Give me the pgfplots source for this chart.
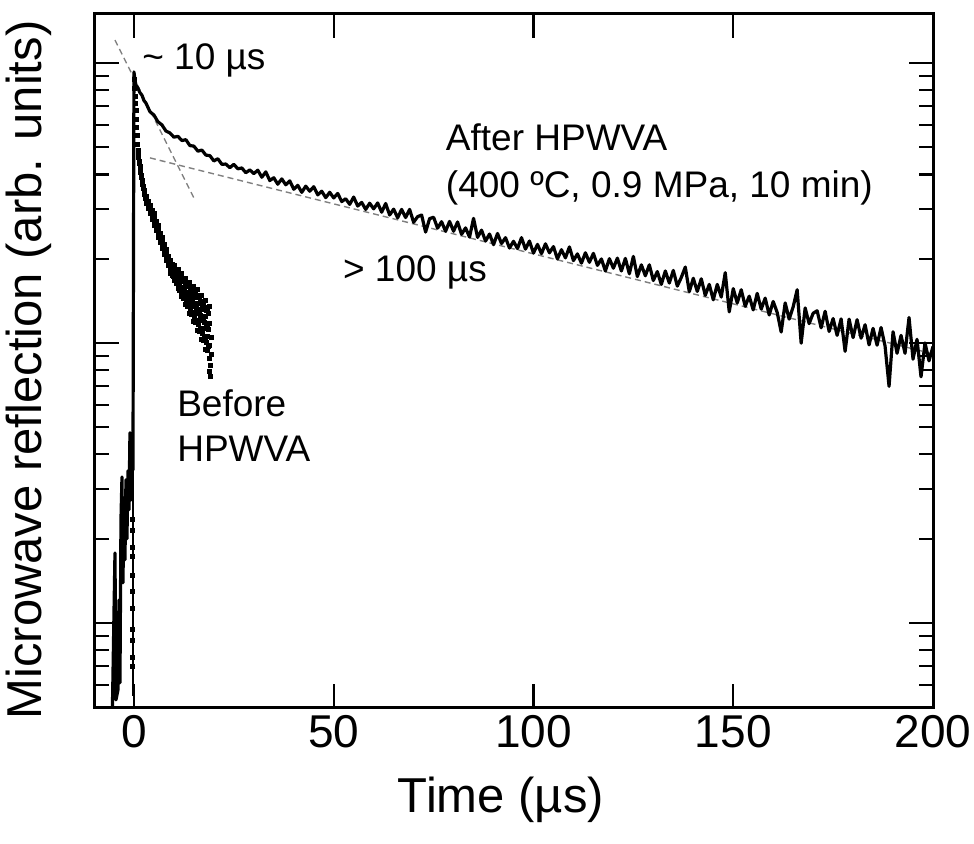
\documentclass[border=0pt]{standalone}
\usepackage{fontspec}
\setmainfont{Liberation Sans}
\usepackage{pgfplots}
\pgfplotsset{compat=1.18}

% y values are log10 of the reflection signal (arb. units)
\begin{document}
\begin{tikzpicture}
\begin{axis}[
  width=419pt, height=347pt, scale only axis,
  xmin=-9.75, xmax=200, ymin=-2.304, ymax=0.175,
  xtick={0,50,100,150,200},
  ytick={-2,-1,0}, yticklabels={},
  minor ytick={-2.301,-2.222,-2.155,-2.097,-2.046,-1.699,-1.523,-1.398,-1.301,-1.222,-1.155,-1.097,-1.046,-0.699,-0.523,-0.398,-0.301,-0.222,-0.155,-0.097,-0.046},
  tick align=inside,
  major tick length=12pt, minor tick length=7pt,
  axis line style={line width=1.5pt},
  every tick/.style={black, line width=1.1pt},
  ticklabel style={font=\fontsize{23}{23}\selectfont},
  /pgf/number format/assume math mode=true,
  xlabel={Time (µs)},
  ylabel={Microwave reflection (arb. units)},
  label style={font=\fontsize{24.5}{24.5}\selectfont},
  xlabel style={at={(axis description cs:0.4845,-0.151)}, anchor=base, inner sep=0},
  ylabel style={at={(axis description cs:-0.0513,0.487)}, anchor=south, inner sep=0},
]

% fit lines
\addplot[gray, line width=0.7pt, dash pattern=on 3pt off 2pt] coordinates {(-4.75,0.082) (15.25,-0.489)};
\addplot[gray, line width=0.7pt, dash pattern=on 3pt off 2pt] coordinates {(4,-0.339) (200,-1.039)};

% before HPWVA: rising edge and scattered points
\addplot[black, line width=0.8pt] coordinates {(-0.3,-2.26) (-0.3,-0.25)};
\addplot[black, only marks, mark=square*, mark size=1pt] coordinates {
(-0.4,-1.632) (-0.4,-1.668) (-0.4,-1.729) (-0.4,-1.761) (-0.4,-1.832) (-0.4,-1.889)
(-0.4,-1.950) (-0.4,-2.025) (-0.4,-2.061) (-0.4,-2.125) (-0.4,-2.157)
(0.1,-0.06) (0.2,-0.09) (0.3,-0.12) (0.4,-0.145) (0.5,-0.17) (0.6,-0.20) (0.7,-0.23)
(0.8,-0.26) (0.9,-0.29) (1.0,-0.311) (1.1,-0.325) (1.2,-0.338) (1.3,-0.35) (1.4,-0.36)
(1.5,-0.37) (1.6,-0.38) (1.7,-0.39) (1.8,-0.40) (1.9,-0.41) (2.0,-0.418) (2.1,-0.427)
(2.2,-0.433) (2.3,-0.442) (2.4,-0.448) (2.5,-0.455) (2.6,-0.463) (2.7,-0.470) (2.8,-0.476)
(2.9,-0.483)
(3.0,-0.475) (3.0,-0.485) (3.0,-0.497) (3.0,-0.503)
(3.5,-0.496) (3.5,-0.507) (3.5,-0.512) (3.5,-0.519)
(4.0,-0.510) (4.0,-0.520) (4.0,-0.532) (4.0,-0.538)
(4.5,-0.526) (4.5,-0.541) (4.5,-0.548) (4.5,-0.559)
(5.0,-0.539) (5.0,-0.552) (5.0,-0.570) (5.0,-0.580)
(5.5,-0.565) (5.5,-0.580) (5.5,-0.587) (5.5,-0.598)
(6.0,-0.581) (6.0,-0.594) (6.0,-0.612) (6.0,-0.622)
(6.5,-0.607) (6.5,-0.622) (6.5,-0.629) (6.5,-0.640)
(7.0,-0.623) (7.0,-0.636) (7.0,-0.654) (7.0,-0.664)
(7.5,-0.649) (7.5,-0.664) (7.5,-0.671) (7.5,-0.682)
(8.0,-0.665) (8.0,-0.678) (8.0,-0.696) (8.0,-0.706)
(8.5,-0.691) (8.5,-0.706) (8.5,-0.713) (8.5,-0.724)
(9.0,-0.705) (9.0,-0.720) (9.0,-0.739) (9.0,-0.750)
(9.5,-0.720) (9.5,-0.738) (9.5,-0.746) (9.5,-0.759)
(10.0,-0.722) (10.0,-0.740) (10.0,-0.764) (10.0,-0.778)
(10.5,-0.737) (10.5,-0.760) (10.5,-0.770) (10.5,-0.786)
(11.0,-0.739) (11.0,-0.760) (11.0,-0.789) (11.0,-0.805)
(11.5,-0.754) (11.5,-0.782) (11.5,-0.794) (11.5,-0.814)
(12.0,-0.753) (12.0,-0.780) (12.0,-0.815) (12.0,-0.835)
(12.5,-0.770) (12.5,-0.804) (12.5,-0.818) (12.5,-0.842)
(13.0,-0.768) (13.0,-0.799) (13.0,-0.841) (13.0,-0.864)
(13.5,-0.787) (13.5,-0.826) (13.5,-0.843) (13.5,-0.871)
(14.0,-0.782) (14.0,-0.818) (14.0,-0.866) (14.0,-0.893)
(14.5,-0.802) (14.5,-0.847) (14.5,-0.866) (14.5,-0.898)
(15.0,-0.797) (15.0,-0.838) (15.0,-0.892) (15.0,-0.923)
(15.5,-0.818) (15.5,-0.869) (15.5,-0.891) (15.5,-0.927)
(16.0,-0.810) (16.0,-0.857) (16.0,-0.919) (16.0,-0.954)
(16.5,-0.836) (16.5,-0.893) (16.5,-0.918) (16.5,-0.959)
(17.0,-0.830) (17.0,-0.881) (17.0,-0.950) (17.0,-0.989)
(17.5,-0.857) (17.5,-0.920) (17.5,-0.947) (17.5,-0.992)
(18.0,-0.848) (18.0,-0.905) (18.0,-0.980) (18.0,-1.022)
(18.5,-0.879) (18.5,-0.947) (18.5,-0.976) (18.5,-1.025)
(19.0,-0.870) (19.0,-0.930) (19.0,-1.010) (19.0,-1.055)
(9.25,-0.718) (9.25,-0.748) (9.75,-0.727) (9.75,-0.761) (10.25,-0.736) (10.25,-0.774)
(10.75,-0.745) (10.75,-0.787) (11.25,-0.754) (11.25,-0.800) (11.75,-0.763) (11.75,-0.813)
(12.25,-0.771) (12.25,-0.827) (12.75,-0.780) (12.75,-0.840) (13.25,-0.789) (13.25,-0.853)
(13.75,-0.796) (13.75,-0.866) (14.25,-0.805) (14.25,-0.879) (14.75,-0.813) (14.75,-0.893)
(15.25,-0.822) (15.25,-0.906) (15.75,-0.830) (15.75,-0.920) (16.25,-0.839) (16.25,-0.935)
(16.75,-0.850) (16.75,-0.950) (17.25,-0.861) (17.25,-0.967) (17.75,-0.872) (17.75,-0.982)
(18.25,-0.883) (18.25,-0.997) (18.75,-0.894) (18.75,-1.012)
(12.25,-0.800) (13.25,-0.821) (14.25,-0.842) (15.25,-0.864) (16.25,-0.887) (17.25,-0.914)
(18.25,-0.940) (12.75,-0.810) (13.75,-0.831) (14.75,-0.853) (15.75,-0.875) (16.75,-0.900)
(17.75,-0.927) (18.75,-0.953)
(19.2,-1.080) (18.8,-1.100) (19.1,-1.121) (19.4,-1.040) (19.5,-0.980)
};

% after HPWVA (400 C, 0.9 MPa, 10 min)
\addplot[black, line width=1.6pt, line join=round] coordinates {
(-5.5,-2.40) (-4.75,-1.750) (-4.5,-2.275) (-4.0,-2.239) (-3.75,-1.918) (-3.5,-2.214)
(-3.25,-1.632) (-3.0,-1.479) (-2.75,-1.857) (-2.5,-1.561) (-2.25,-1.775) (-2.0,-1.489)
(-1.75,-1.700) (-1.5,-1.457) (-1.25,-1.596) (-1.0,-1.321) (-0.75,-1.561) (-0.5,-1.346)
(-0.25,-1.454) (0,-0.032) (0.25,-0.061) (0.5,-0.079) (1,-0.090) (1.5,-0.106) (2,-0.115)
(2.5,-0.134) (3,-0.143) (4,-0.174) (5,-0.186) (6,-0.210) (7,-0.221) (8,-0.243) (9,-0.250)
(10,-0.265) (11,-0.262) (12,-0.277) (13,-0.274) (14,-0.295) (15,-0.297) (16,-0.315)
(17,-0.311) (18,-0.329) (19,-0.331) (20,-0.350) (21,-0.342) (22,-0.362) (23,-0.361)
(24,-0.374) (25,-0.362) (26,-0.378) (27,-0.375) (28,-0.392) (29,-0.382) (30,-0.395)
(31,-0.383) (32,-0.408) (33,-0.389) (34,-0.420) (35,-0.410) (36,-0.433) (37,-0.414)
(38,-0.435) (39,-0.421) (40,-0.451) (41,-0.437) (42,-0.462) (43,-0.440) (44,-0.458)
(45,-0.442) (46,-0.471) (47,-0.458) (48,-0.481) (49,-0.462) (50,-0.482) (51,-0.466)
(52,-0.495) (53,-0.485) (54,-0.505) (55,-0.479) (56,-0.511) (57,-0.498) (58,-0.523)
(59,-0.501) (60,-0.521) (61,-0.500) (62,-0.533) (63,-0.502) (64,-0.543) (65,-0.522)
(66,-0.553) (67,-0.523) (68,-0.552) (69,-0.523) (70,-0.569) (71,-0.549) (72,-0.543)
(73,-0.604) (74,-0.556) (75,-0.551) (76,-0.590) (77,-0.567) (78,-0.601) (79,-0.566)
(80,-0.601) (81,-0.568) (82,-0.612) (83,-0.589) (84,-0.622) (85,-0.555) (86,-0.623)
(87,-0.597) (88,-0.636) (89,-0.611) (90,-0.649) (91,-0.609) (92,-0.645) (93,-0.624)
(94,-0.661) (95,-0.637) (96,-0.663) (97,-0.624) (98,-0.665) (99,-0.636) (100,-0.679)
(101,-0.648) (102,-0.681) (103,-0.646) (104,-0.678) (105,-0.656) (106,-0.700) (107,-0.667)
(108,-0.696) (109,-0.657) (110,-0.706) (111,-0.682) (112,-0.715) (113,-0.678) (114,-0.712)
(115,-0.680) (116,-0.723) (117,-0.700) (118,-0.743) (119,-0.699) (120,-0.733) (121,-0.697)
(122,-0.743) (123,-0.698) (124,-0.753) (125,-0.691) (126,-0.763) (127,-0.721) (128,-0.760)
(129,-0.721) (130,-0.777) (131,-0.745) (132,-0.791) (133,-0.743) (134,-0.786) (135,-0.741)
(136,-0.797) (137,-0.766) (138,-0.729) (139,-0.817) (140,-0.769) (141,-0.816) (142,-0.771)
(143,-0.830) (144,-0.791) (145,-0.846) (146,-0.791) (147,-0.836) (148,-0.749) (149,-0.889)
(150,-0.806) (151,-0.857) (152,-0.810) (153,-0.869) (154,-0.833) (155,-0.882) (156,-0.823)
(157,-0.879) (158,-0.840) (159,-0.900) (160,-0.852) (161,-0.891) (162,-0.961) (163,-0.857)
(164,-0.915) (165,-0.871) (166,-0.810) (167,-1.001) (168,-0.875) (169,-0.931) (170,-0.894)
(171,-0.885) (172,-0.946) (173,-0.887) (174,-0.959) (175,-0.913) (176,-0.973) (177,-0.914)
(178,-1.030) (179,-0.915) (180,-0.981) (181,-0.917) (182,-0.983) (183,-0.935) (184,-1.007)
(185,-0.948) (186,-1.008) (187,-0.945) (188,-1.011) (189,-1.155) (190,-0.960) (191,-1.037)
(192,-0.973) (193,-1.037) (194,-0.909) (195,-1.058) (196,-0.987) (197,-1.121) (198,-1.000)
(199,-1.064) (200,-1.013)
};

\node[anchor=base west, inner sep=0, font=\fontsize{18.5}{18.5}\selectfont] at (axis cs:2,-0.025) {\textasciitilde{} 10 µs};
\node[anchor=base west, inner sep=0, font=\fontsize{18.5}{18.5}\selectfont] at (axis cs:78,-0.311) {After HPWVA};
\node[anchor=base west, inner sep=0, font=\fontsize{18.5}{18.5}\selectfont] at (axis cs:78,-0.482) {(400 ºC, 0.9 MPa, 10 min)};
\node[anchor=base west, inner sep=0, font=\fontsize{18.5}{18.5}\selectfont] at (axis cs:52.25,-0.782) {> 100 µs};
\node[anchor=base west, inner sep=0, font=\fontsize{18.5}{18.5}\selectfont] at (axis cs:10.75,-1.264) {Before};
\node[anchor=base west, inner sep=0, font=\fontsize{18.5}{18.5}\selectfont] at (axis cs:10.75,-1.425) {HPWVA};
\end{axis}
\pgfresetboundingbox
\path[use as bounding box] ([shift={(-47.5pt,-68pt)}]current axis.south west) rectangle ([shift={(20.5pt,7pt)}]current axis.north east);
\end{tikzpicture}
\end{document}
